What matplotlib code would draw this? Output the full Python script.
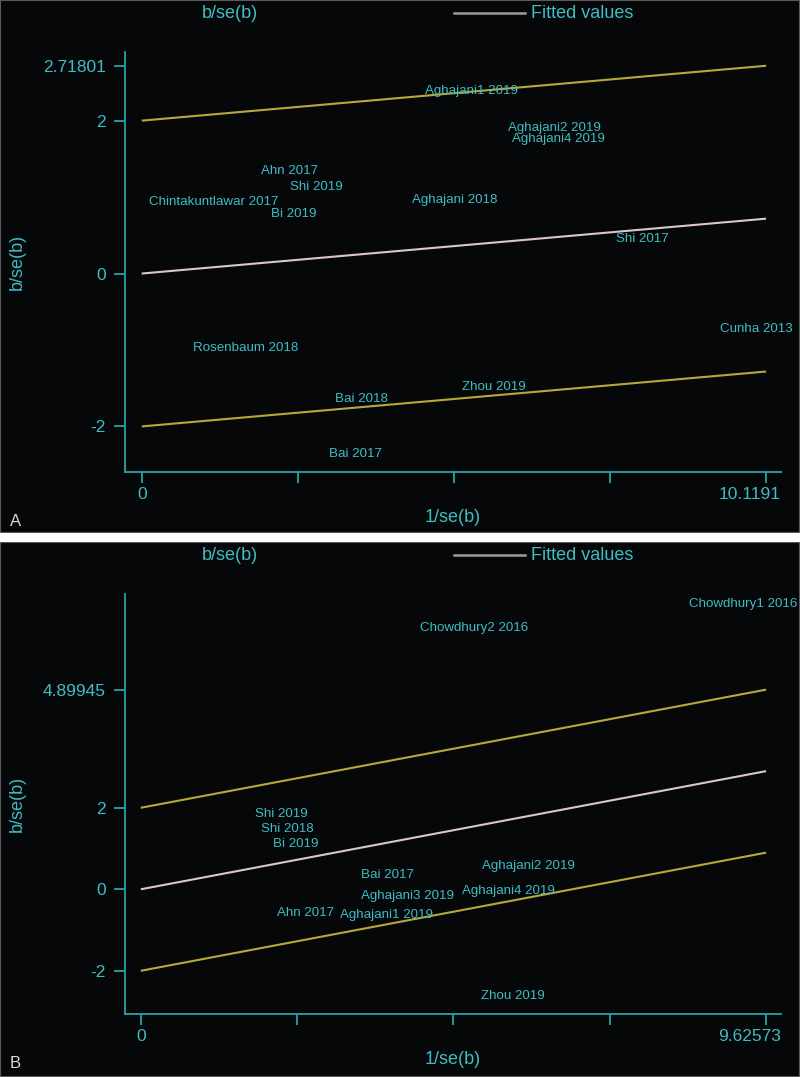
import matplotlib
matplotlib.use("Agg")
import matplotlib.pyplot as plt
import matplotlib.transforms as mtransforms
from matplotlib.lines import Line2D
from matplotlib.patches import Rectangle

plt.rcParams['font.family'] = ['Liberation Sans', 'DejaVu Sans']

# ---------------- data ----------------
# Panel A
A_labels = ["Aghajani1 2019", "Aghajani2 2019", "Aghajani4 2019", "Ahn 2017", "Shi 2019",
            "Chintakuntlawar 2017", "Bi 2019", "Aghajani 2018", "Shi 2017", "Cunha 2013",
            "Rosenbaum 2018", "Zhou 2019", "Bai 2018", "Bai 2017"]
A_x = [5.35, 6.69, 6.76, 2.40, 2.83, 1.17, 2.47, 5.07, 8.12, 9.96, 1.69, 5.71, 3.57, 3.46]
A_y = [2.39, 1.91, 1.76, 1.34, 1.13, 0.94, 0.78, 0.96, 0.45, -0.72, -0.98, -1.48, -1.64, -2.36]
A_fit_x = [0, 10.1191]
A_fit_y = [0, 0.71801]
A_xticks = [0, 2.5298, 5.0596, 7.5893, 10.1191]
A_xticklabels = ["0", "", "", "", "10.1191"]
A_yticks = [-2, 0, 2, 2.71801]
A_yticklabels = ["-2", "0", "2", "2.71801"]

# Panel B
B_labels = ["Chowdhury1 2016", "Chowdhury2 2016", "Shi 2019", "Shi 2018", "Bi 2019", "Bai 2017",
            "Aghajani2 2019", "Aghajani3 2019", "Aghajani4 2019", "Ahn 2017", "Aghajani1 2019",
            "Zhou 2019"]
B_x = [9.27, 5.13, 2.16, 2.25, 2.38, 3.79, 5.96, 4.11, 5.66, 2.54, 3.79, 5.73]
B_y = [7.00, 6.42, 1.85, 1.49, 1.10, 0.35, 0.56, -0.16, -0.04, -0.57, -0.64, -2.63]
B_fit_x = [0, 9.62573]
B_fit_y = [0, 2.89945]
B_xticks = [0, 2.4064, 4.8129, 7.2193, 9.62573]
B_xticklabels = ["0", "", "", "", "9.62573"]
B_yticks = [-2, 0, 2, 4.89945]
B_yticklabels = ["-2", "0", "2", "4.89945"]

band = 2.0

# ---------------- style ----------------
W, H = 800, 1077
BG = "#060708"
TXT = "#3fbcc4"
AXC = "#2aa3a6"
BANDC = "#b8a83a"
FITC = "#dcc6c6"
LEGC = "#9c9c9c"

fig = plt.figure(figsize=(W / 100, H / 100), dpi=100, facecolor=BG)


def fx(px):
    return px / W


def fy(py):
    return 1 - py / H


def panel(off, labels, xs, ys, fit_x, fit_y, xticks, xtl, yticks, ytl, xlim, ylim, letter):
    left, right, top, bottom = 125, 781, 52 + off, 472 + off
    ax = fig.add_axes([fx(left), fy(bottom), fx(right - left), (bottom - top) / H])
    ax.set_facecolor(BG)
    ax.set_xlim(*xlim)
    ax.set_ylim(*ylim)
    for s in ("top", "right"):
        ax.spines[s].set_visible(False)
    for s in ("left", "bottom"):
        ax.spines[s].set_color(AXC)
        ax.spines[s].set_linewidth(1.3)
    ax.set_xticks(xticks)
    ax.set_xticklabels(xtl)
    ax.set_yticks(yticks)
    ax.set_yticklabels(ytl)
    ax.tick_params(axis="both", colors=AXC, labelcolor=TXT, labelsize=12.5,
                   length=8, width=1.3, direction="out")
    ax.tick_params(axis="y", pad=6)
    ax.tick_params(axis="x", pad=3)
    # last x tick label is right-aligned near the axis end
    last = ax.get_xticklabels()[-1]
    last.set_ha("right")
    last.set_transform(last.get_transform() +
                       mtransforms.ScaledTranslation(15 / 100, 0, fig.dpi_scale_trans))
    lo = [v - band for v in fit_y]
    hi = [v + band for v in fit_y]
    ax.plot(fit_x, hi, color=BANDC, lw=1.5, solid_capstyle="butt")
    ax.plot(fit_x, lo, color=BANDC, lw=1.5, solid_capstyle="butt")
    ax.plot(fit_x, fit_y, color=FITC, lw=1.5, solid_capstyle="butt")
    for lab, x, y in zip(labels, xs, ys):
        ax.text(x, y, lab, color=TXT, fontsize=9.6, ha="center", va="center", clip_on=False)
    ax.set_xlabel("1/se(b)", color=TXT, fontsize=13, labelpad=2)
    ax.set_ylabel("b/se(b)", color=TXT, fontsize=13)
    ax.yaxis.set_label_coords((26 - left) / (right - left), 0.5)
    ax.xaxis.set_label_coords(0.5, -(509 + off - bottom) / (bottom - top))
    # legend
    fig.text(fx(230), fy(13 + off), "b/se(b)", color=TXT, fontsize=13, ha="center", va="center")
    fig.add_artist(Line2D([fx(454), fx(525)], [fy(13 + off), fy(13 + off)], color=LEGC, lw=1.8))
    fig.text(fx(531), fy(13 + off), "Fitted values", color=TXT, fontsize=13, ha="left", va="center")
    fig.text(fx(10), fy(521 + off), letter, color="#d8d8d8", fontsize=12, ha="left", va="center")
    return ax


# panel frames and separator
fig.add_artist(Rectangle((0, fy(533)), 1, 1 - fy(533), transform=fig.transFigure,
                         fill=False, edgecolor="#5a5a5a", lw=1.5))
fig.add_artist(Rectangle((0, 0), 1, fy(542), transform=fig.transFigure,
                         fill=False, edgecolor="#5a5a5a", lw=1.5))
fig.add_artist(Rectangle((0, fy(542)), 1, fy(533) - fy(542), transform=fig.transFigure,
                         facecolor="white", edgecolor="none"))

panel(0, A_labels, A_x, A_y, A_fit_x, A_fit_y, A_xticks, A_xticklabels, A_yticks, A_yticklabels,
      (-0.271, 10.361), (-2.596, 2.898), "A")
panel(542, B_labels, B_x, B_y, B_fit_x, B_fit_y, B_xticks, B_xticklabels, B_yticks, B_yticklabels,
      (-0.243, 9.855), (-3.06, 7.246), "B")

fig.savefig("out.png", dpi=100, facecolor=BG)
